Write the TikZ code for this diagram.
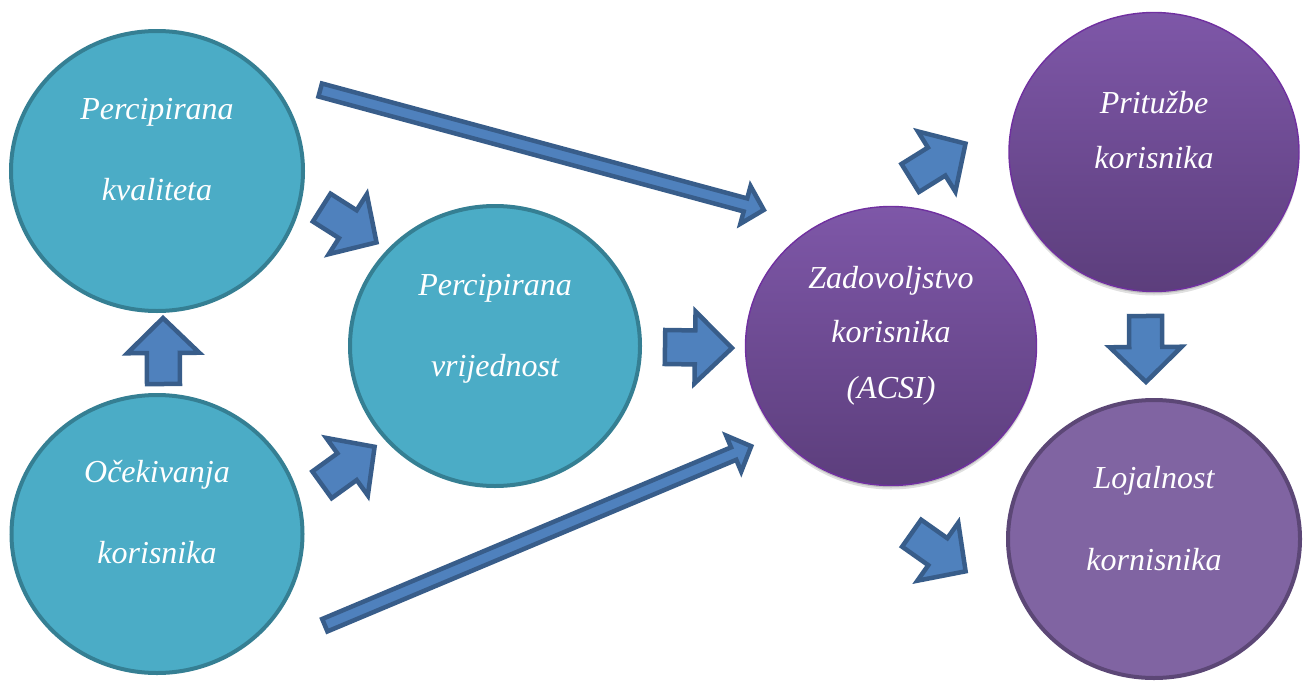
\documentclass[tikz,border=0pt]{standalone}
\usepackage{fontspec}
\setmainfont{Liberation Serif}
\usetikzlibrary{calc,shapes.geometric,shadows}
\definecolor{tealfill}{HTML}{4BACC6}
\definecolor{tealline}{HTML}{357F93}
\definecolor{arrfill}{HTML}{4F81BD}
\definecolor{arrline}{HTML}{385D8A}
\definecolor{purtop}{HTML}{7E57A8}
\definecolor{purbot}{HTML}{5C3E7C}
\definecolor{purline}{HTML}{7030A0}
\definecolor{lojfill}{HTML}{8064A2}
\definecolor{lojline}{HTML}{5C4776}
\tikzset{
  tealcirc/.style={ellipse, fill=tealfill, draw=tealline, line width=4pt, inner sep=0pt},
  purcirc/.style={ellipse, top color=purtop, bottom color=purbot, draw=purline, line width=1.4pt, inner sep=0pt,
     drop shadow={shadow xshift=0pt, shadow yshift=-4pt, opacity=0.12, fill=black},
     drop shadow={shadow xshift=0pt, shadow yshift=-2pt, opacity=0.15, fill=black}},
  lojcirc/.style={ellipse, fill=lojfill, draw=lojline, line width=4pt, inner sep=0pt},
  txt/.style={font=\itshape\fontsize{32}{38}\selectfont, text=white, inner sep=0pt, anchor=base},
  barr/.style={fill=arrfill, draw=arrline, line width=4.5pt, line join=miter, miter limit=10},
}
\newcommand\blockarr[5]{%
  \coordinate (ba-h) at ($(#2)!#5!(#1)$);
  \draw[barr] ($(#1)!#3!90:(#2)$) -- ($(ba-h)!#3!-90:(#1)$) -- ($(ba-h)!#4!-90:(#1)$) -- (#2)
     -- ($(ba-h)!#4!90:(#1)$) -- ($(ba-h)!#3!90:(#1)$) -- ($(#1)!#3!-90:(#2)$) -- cycle;
}
\begin{document}
\begin{tikzpicture}[x=1pt,y=-1pt]
\useasboundingbox (0,0) rectangle (1306,680);
% circles
\node[tealcirc, minimum width=292pt, minimum height=280pt] (pk) at (157,171) {};
\node[tealcirc, minimum width=291pt, minimum height=278pt] (ok) at (157,534) {};
\node[tealcirc, minimum width=290pt, minimum height=280pt] (pv) at (495,346) {};
\node[purcirc, minimum width=291pt, minimum height=279pt] (zad) at (891,346) {};
\node[purcirc, minimum width=290pt, minimum height=279pt] (pri) at (1154,152) {};
\node[lojcirc, minimum width=292pt, minimum height=278pt] (loj) at (1154,539) {};
% texts
\node[txt] (pk1) at ($(pk.center)+(0,-52)$) {Percipirana};
\node[txt] (pk2) at ($(pk.center)+(0,29)$) {kvaliteta};
\node[txt] (ok1) at ($(ok.center)+(0,-52)$) {Očekivanja};
\node[txt] (ok2) at ($(ok.center)+(0,29)$) {korisnika};
\node[txt] (pv1) at ($(pv.center)+(0,-51)$) {Percipirana};
\node[txt] (pv2) at ($(pv.center)+(0,30)$) {vrijednost};
\node[txt] (zad1) at ($(zad.center)+(0,-58)$) {Zadovoljstvo};
\node[txt] (zad2) at ($(zad.center)+(0,-4)$) {korisnika};
\node[txt] (zad3) at ($(zad.center)+(0,52)$) {(ACSI)};
\node[txt] (pri1) at ($(pri.center)+(0,-39)$) {Pritužbe};
\node[txt] (pri2) at ($(pri.center)+(0,16)$) {korisnika};
\node[txt] (loj1) at ($(loj.center)+(0,-51)$) {Lojalnost};
\node[txt] (loj2) at ($(loj.center)+(0,31)$) {kornisnika};
% arrow end points
\coordinate (as) at (321.7,207.6); \coordinate (ae) at (376.5,242.4);
\coordinate (bs) at (322,484.8);   \coordinate (be) at (374.6,446.8);
\coordinate (cs) at (163.5,384);   \coordinate (ce) at (163,318);
\coordinate (ds) at (665,347);     \coordinate (de) at (732,348);
\coordinate (es) at (910.2,178);   \coordinate (ee) at (965.5,143.6);
\coordinate (fs) at (911.6,533.2); \coordinate (fe) at (965.6,571.3);
\coordinate (gs) at (1145.5,316);  \coordinate (ge) at (1146,382);
\coordinate (hs) at (320.2,90);    \coordinate (he) at (763.8,209.9);
\coordinate (is) at (324.8,625.2); \coordinate (ie) at (751.2,446.2);
% arrows
\blockarr{as}{ae}{16.5pt}{35.5pt}{34pt}
\blockarr{bs}{be}{16.5pt}{35.5pt}{34pt}
\blockarr{cs}{ce}{16.5pt}{36pt}{35pt}
\blockarr{ds}{de}{17pt}{36pt}{37pt}
\blockarr{es}{ee}{16.5pt}{35.5pt}{34pt}
\blockarr{fs}{fe}{16.5pt}{35.5pt}{34pt}
\blockarr{gs}{ge}{16.5pt}{36pt}{35pt}
\blockarr{hs}{he}{6.75pt}{19.5pt}{19pt}
\blockarr{is}{ie}{6.75pt}{19.5pt}{19pt}
\end{tikzpicture}
\end{document}
